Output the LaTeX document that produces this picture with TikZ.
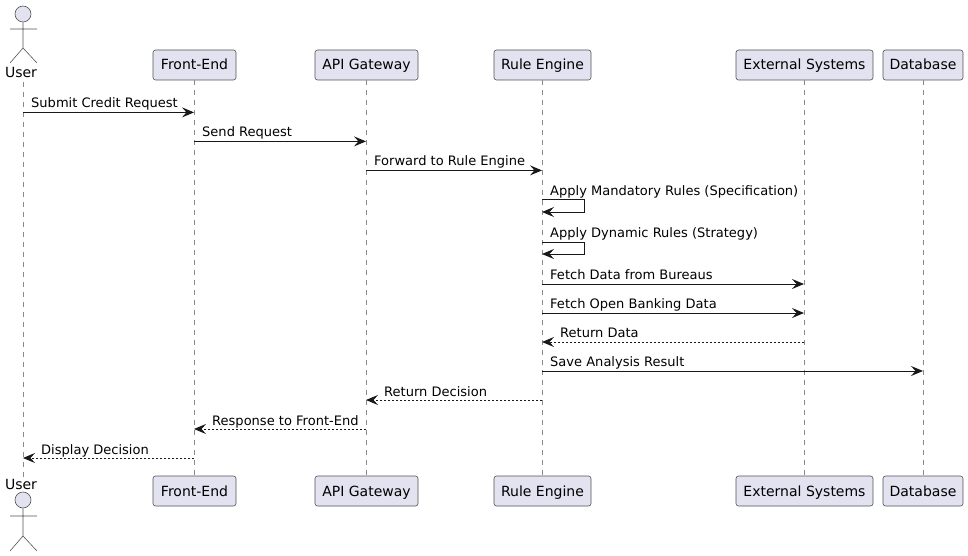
\documentclass[tikz,border=0pt]{standalone}
\usepackage{fontspec}
\setmainfont{DejaVu Sans}
\usetikzlibrary{arrows.meta}
\definecolor{pfill}{HTML}{E2E2F0}
\definecolor{pline}{HTML}{181818}
\definecolor{lifegray}{HTML}{8A8A8A}
\tikzset{
  x=1pt,y=-1pt,
  part/.style={draw=pline!75,line width=0.6pt,fill=pfill,rounded corners=2.5pt,minimum height=30pt,inner sep=0pt,text height=12pt,text depth=2pt,font=\fontsize{14}{16}\selectfont,text=black},
  life/.style={draw=lifegray,line width=0.7pt,dash pattern=on 5pt off 5pt},
  msg/.style={draw=pline,line width=1pt,-{Stealth[length=12pt,width=10pt,inset=4.5pt]}},
  ret/.style={msg,dash pattern=on 2pt off 2pt},
  lab/.style={anchor=base west,inner sep=0pt,font=\fontsize{13.03}{15}\selectfont,text=black},
  actorhead/.style={circle,draw=pline!75,line width=0.6pt,fill=pfill,minimum size=16pt,inner sep=0pt},
  actorline/.style={draw=pline!75,line width=0.6pt},
  actorname/.style={anchor=base,inner sep=0pt,font=\fontsize{14}{16}\selectfont,text=black},
}
\begin{document}
\begin{tikzpicture}
\useasboundingbox (0,0) rectangle (968,556);
% lifeline ends
\coordinate (uT) at (23,82); \coordinate (uB) at (23,477);
% participants
\node[part,minimum width=83pt] (feT) at (194.5,65) {Front-End};
\node[part,minimum width=103pt] (apiT) at (366.5,65) {API Gateway};
\node[part,minimum width=97pt] (reT) at (542.5,65) {Rule Engine};
\node[part,minimum width=137pt] (exT) at (804.5,65) {External Systems};
\node[part,minimum width=80pt] (dbT) at (923,65) {Database};
\node[part,minimum width=83pt] (feB) at (194.5,491) {Front-End};
\node[part,minimum width=103pt] (apiB) at (366.5,491) {API Gateway};
\node[part,minimum width=97pt] (reB) at (542.5,491) {Rule Engine};
\node[part,minimum width=137pt] (exB) at (804.5,491) {External Systems};
\node[part,minimum width=80pt] (dbB) at (923,491) {Database};
% lifelines
\draw[life] (uT) -- (uB);
\coordinate (fe) at (194,0); \coordinate (api) at (366,0); \coordinate (re) at (542,0); \coordinate (ex) at (804,0); \coordinate (db) at (923,0); \coordinate (u) at (23,0);
\draw[life] (fe |- feT.south) -- (fe |- feB.north);
\draw[life] (api |- apiT.south) -- (api |- apiB.north);
\draw[life] (re |- reT.south) -- (re |- reB.north);
\draw[life] (ex |- exT.south) -- (ex |- exB.north);
\draw[life] (db |- dbT.south) -- (db |- dbB.north);
% top actor
\node[actorname] (userT) at (21,78) {User};
\node[actorhead] (headT) at (23,14) {};
\draw[actorline] (headT.south) -- (23,48) (10,29) -- (37,29) (10,63) -- (23,48) -- (37,63);
% bottom actor
\node[actorname] (userB) at (21,489) {User};
\node[actorhead] (headB) at (23,500) {};
\draw[actorline] (headB.south) -- (23,536) (10,516) -- (37,516) (10,551) -- (23,536) -- (37,551);
% messages
\foreach \n/\y in {a/112.4,b/141.4,c/170.4,d/199.3,e/212,f/242,g/254,h/284,i/313,j/342,k/371,l/400,m/429,n/458}{\coordinate (m\n) at (0,\y);}
\draw[msg] (u |- ma) -- (fe |- ma);
\node[lab] (ta) at (31,108) {Submit Credit Request};
\draw[msg] (fe |- mb) -- (api |- mb);
\node[lab] (tb) at (202,137) {Send Request};
\draw[msg] (api |- mc) -- (re |- mc);
\node[lab] (tc) at (374,166) {Forward to Rule Engine};
\draw[msg] (re |- md) -- (584,199.3) -- (584,212) -- (re |- me);
\node[lab] (td) at (550,195) {Apply Mandatory Rules (Specification)};
\draw[msg] (re |- mf) -- (584,242) -- (584,254) -- (re |- mg);
\node[lab] (tf) at (550,237) {Apply Dynamic Rules (Strategy)};
\draw[msg] (re |- mh) -- (ex |- mh);
\node[lab] (th) at (550,279) {Fetch Data from Bureaus};
\draw[msg] (re |- mi) -- (ex |- mi);
\node[lab] (ti) at (550,308) {Fetch Open Banking Data};
\draw[ret] (ex |- mj) -- (re |- mj);
\node[lab] (tj) at (560,337) {Return Data};
\draw[msg] (re |- mk) -- (db |- mk);
\node[lab] (tk) at (550,366) {Save Analysis Result};
\draw[ret] (re |- ml) -- (api |- ml);
\node[lab] (tl) at (384,396) {Return Decision};
\draw[ret] (api |- mm) -- (fe |- mm);
\node[lab] (tm) at (212,425) {Response to Front-End};
\draw[ret] (fe |- mn) -- (u |- mn);
\node[lab] (tn) at (41,454) {Display Decision};
\end{tikzpicture}
\end{document}
